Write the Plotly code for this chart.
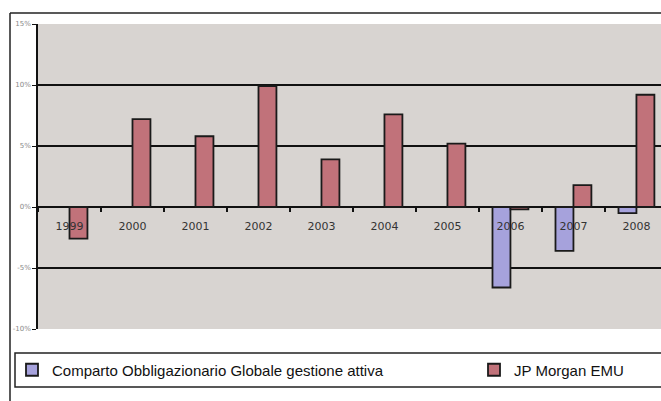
import plotly.graph_objects as go

years = ["1999", "2000", "2001", "2002", "2003", "2004", "2005", "2006", "2007", "2008"]
comparto = [None, None, None, None, None, None, None, -6.6, -3.6, -0.5]
jpmorgan = [-2.6, 7.2, 5.8, 9.9, 3.9, 7.6, 5.2, -0.2, 1.8, 9.2]
name_a = "Comparto Obbligazionario Globale gestione attiva"
name_b = "JP Morgan EMU"
ytick_vals = [-10, -5, 0, 5, 10, 15]
ytick_text = ["-10%", "-5%", "0%", "5%", "10%", "15%"]

fig = go.Figure()
fig.add_trace(go.Bar(x=years, y=comparto, name=name_a, legend="legend",
                     marker=dict(color="#a6a2dc", line=dict(color="#1a1a1a", width=1.8))))
fig.add_trace(go.Bar(x=years, y=jpmorgan, name=name_b, legend="legend2",
                     marker=dict(color="#c1727a", line=dict(color="#1a1a1a", width=1.8))))

W, H = 661, 401
L, R, T, B = 38, 0, 24, 72
pw, ph = W - L - R, H - T - B

def px(x):
    return (x - L) / pw

def py(y):
    return (H - B - y) / ph

leg_common = dict(
    orientation="h", yanchor="middle", xanchor="left",
    bgcolor="rgba(0,0,0,0)", borderwidth=0,
    font=dict(family="Liberation Sans", size=15, color="#111"),
    itemwidth=30,
)

fig.update_layout(
    width=W, height=H,
    margin=dict(l=L, r=R, t=T, b=B, autoexpand=False),
    paper_bgcolor="white",
    plot_bgcolor="#d8d4d1",
    barmode="group",
    bargap=0.43,
    bargroupgap=0,
    font=dict(family="DejaVu Sans", color="#222"),
    xaxis=dict(
        type="category", range=[-0.5, 9.39],
        anchor="free", position=0.4,
        showline=False, showgrid=False, zeroline=False,
        ticks="outside", tickson="boundaries", ticklen=4, tickwidth=1.5, tickcolor="#111",
        ticklabelstandoff=11,
        tickfont=dict(family="DejaVu Sans", size=11, color="#333"),
    ),
    yaxis=dict(
        range=[-10, 15], tickvals=ytick_vals, ticktext=ytick_text,
        showgrid=True, gridcolor="#111", gridwidth=1.5,
        zeroline=True, zerolinecolor="#111", zerolinewidth=1.5,
        showline=True, linecolor="#111", linewidth=1.5,
        ticks="outside", ticklen=4, tickcolor="#111",
        tickfont=dict(family="DejaVu Sans", size=7, color="#888"),
    ),
    showlegend=True,
    legend=dict(x=px(12), y=py(370), **leg_common),
    legend2=dict(x=px(474), y=py(370), **leg_common),
    shapes=[
        # outer frame
        dict(type="line", xref="paper", yref="paper", x0=px(10), x1=px(680), y0=py(13), y1=py(13),
             line=dict(color="#222", width=1.5)),
        dict(type="line", xref="paper", yref="paper", x0=px(10), x1=px(10), y0=py(13), y1=py(410),
             line=dict(color="#222", width=1.5)),
        # legend box
        dict(type="rect", xref="paper", yref="paper", x0=px(15), x1=px(680), y0=py(353), y1=py(387),
             line=dict(color="#222", width=1.5), fillcolor="rgba(0,0,0,0)"),
    ],
)

fig.write_html("out.html", config={"displayModeBar": False},
               post_script="document.body.style.margin='0';document.body.style.overflow='hidden';")
